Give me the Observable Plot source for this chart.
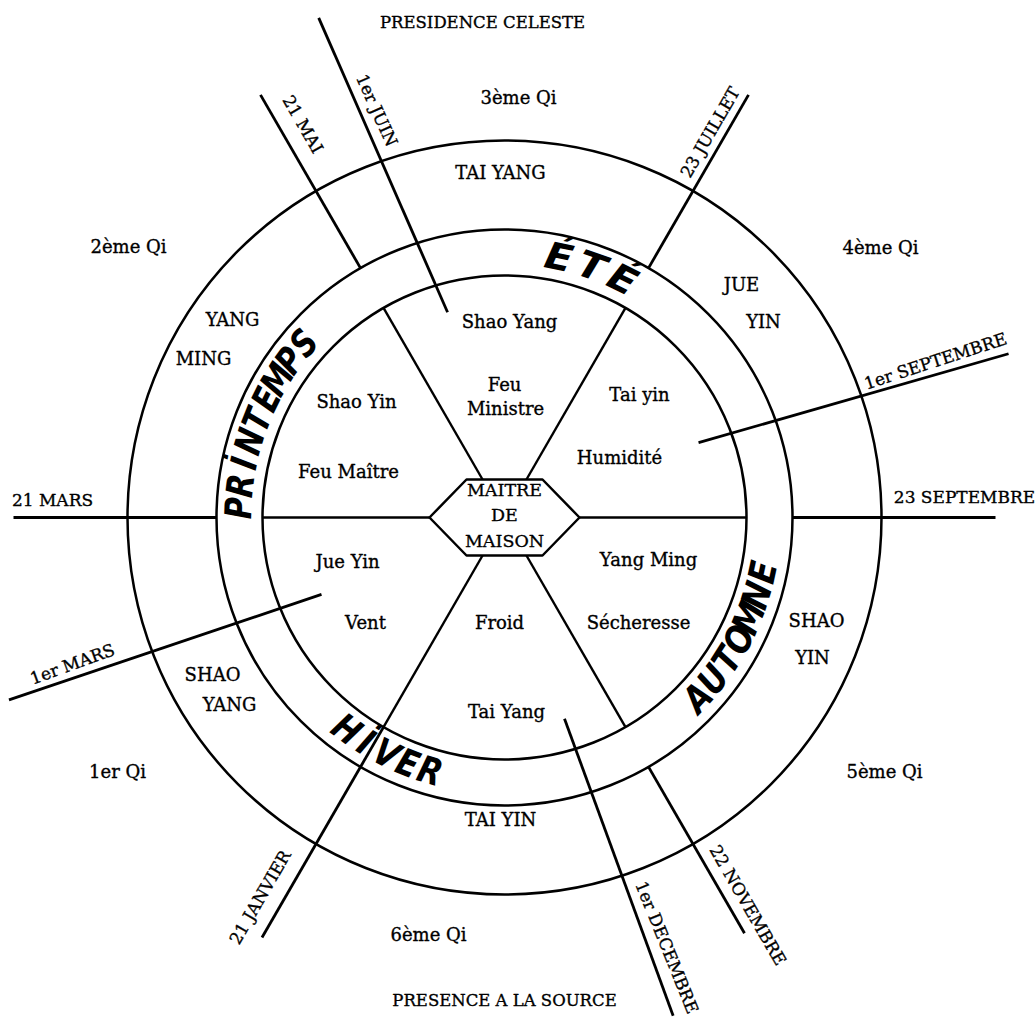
<!DOCTYPE html>
<html>
<head>
<meta charset="utf-8">
<script src="https://cdn.jsdelivr.net/npm/d3@7"></script>
<script src="https://cdn.jsdelivr.net/npm/@observablehq/plot@0.6"></script>
<style>
  html, body { margin: 0; padding: 0; background: #fff; }
</style>
</head>
<body>
<div id="chart"></div>
<script>
// ---- Diagram values (centre of the wheel at 0,0; y pointing up) ----
// ring radii: inner circle, middle circle (season band), outer circle
const ringRadii = [242, 288, 377];
// the six spokes from the central hexagon to the inner circle (degrees)
const spokeAngles = [0, 60, 120, 180, 240, 300];
// central hexagon: half width, half height, half length of top/bottom edges
const hexagonSize = [75, 38, 38];

// date lines: start (angle, radius) and end (angle, radius)
const dateLabels      = ["21 MARS", "21 MAI", "1er JUIN", "23 JUILLET", "1er SEPTEMBRE", "23 SEPTEMBRE", "22 NOVEMBRE", "1er DECEMBRE", "21 JANVIER", "1er MARS"];
const dateAngleStart  = [180, 120, 105.5, 60, 21.1, 0, 300, 286.6, 240, 202.8];
const dateRadiusStart = [288, 288, 213, 288, 208, 288, 288, 210, 242, 198.5];
const dateAngleEnd    = [180, 120, 110.4, 60, 18.0, 0, 300, 288.7, 240, 200.2];
const dateRadiusEnd   = [491, 488, 533, 488, 530, 491, 480, 526, 485, 528];
const dateLabelX      = [-452, -202, -128, 206, 431, 460, 243, 162, -244, -432];
const dateLabelY      = [17, 393, 407, 385, 156, 20, -388, -430, -380, -147];
const dateLabelAngle  = [0, 60, 66, -60, -18, 0, 60, 68, -60, -20];

// the six Qi
const qiNames = ["1er Qi", "2ème Qi", "3ème Qi", "4ème Qi", "5ème Qi", "6ème Qi"];
const qiX     = [-387, -376, 14, 376, 380, -76];
const qiY     = [-255, 270, 419, 269, -255, -418];

// names in the outer ring
const ringNames = ["SHAO", "YANG", "YANG", "MING", "TAI YANG", "JUE", "YIN", "SHAO", "YIN", "TAI YIN"];
const ringX     = [-292, -275, -272, -301, -4, 237, 259, 312, 308, -4];
const ringY     = [-158, -188, 197, 158, 344, 232, 195, -104, -141, -303];

// names inside the inner circle
const innerNames = ["Jue Yin", "Vent", "Shao Yin", "Feu Maître", "Shao Yang", "Feu", "Ministre", "Tai yin", "Humidité", "Yang Ming", "Sécheresse", "Tai Yang", "Froid"];
const innerX     = [-157, -139, -148, -156, 5, 0, 1, 135, 115, 144, 134, 2, -5];
const innerY     = [-45, -106, 115, 45, 195, 132, 108, 122, 59, -43, -106, -195, -106];

// centre
const centreNames = ["MAITRE", "DE", "MAISON"];
const centreY     = [27, 2, -24];

// top and bottom
const poleNames = ["PRESIDENCE CELESTE", "PRESENCE A LA SOURCE"];
const poleX     = [-22, 0];
const poleY     = [495, -483];

// seasons written in the band: first and last letter angle (degrees)
const seasonNames = ["PRİNTEMPS", "ÉTÉ", "AUTOMNE", "HİVER"];
const seasonFrom  = [178, 78.2, 317, 233.3];
const seasonTo    = [139, 63.6, 348, 253.6];

// ---- derived tables ----
const rad = (a) => a * Math.PI / 180;
const px = (a, r) => r * Math.cos(rad(a));
const py = (a, r) => r * Math.sin(rad(a));

const [hexW, hexH, hexE] = hexagonSize;
const hexagon = [[-hexW, 0], [-hexE, hexH], [hexE, hexH], [hexW, 0], [hexE, -hexH], [-hexE, -hexH], [-hexW, 0]]
  .map(([x, y]) => ({x, y}));
const hexRadius = (a) => Math.abs(Math.sin(rad(a))) < 1e-6 ? hexW : hexH / Math.abs(Math.sin(rad(a)));

const spokes = spokeAngles.map(a => ({a, r0: hexRadius(a), r1: ringRadii[0]}));

const dates = dateLabels.map((label, i) => ({
  label,
  a0: dateAngleStart[i], r0: dateRadiusStart[i],
  a1: dateAngleEnd[i], r1: dateRadiusEnd[i],
  lx: dateLabelX[i], ly: dateLabelY[i], rot: dateLabelAngle[i]
}));

const labels = [
  ...qiNames.map((t, i) => ({t, x: qiX[i], y: qiY[i]})),
  ...ringNames.map((t, i) => ({t, x: ringX[i], y: ringY[i]})),
  ...innerNames.map((t, i) => ({t, x: innerX[i], y: innerY[i]}))
];
const centre = centreNames.map((t, i) => ({t, x: 0, y: centreY[i]}));
const poles = poleNames.map((t, i) => ({t, x: poleX[i], y: poleY[i]}));

const bandRadius = (ringRadii[0] + ringRadii[1]) / 2;
const seasonLetters = [];
seasonNames.forEach((name, k) => {
  const chars = Array.from(name);
  const n = chars.length;
  const clockwise = seasonFrom[k] > seasonTo[k];
  const step = Math.abs(seasonTo[k] - seasonFrom[k]) / (n - 1);
  const spacing = rad(step) * bandRadius;           // px between letters
  const squeeze = Math.min(1.1, spacing / 28);        // hand lettering is narrow
  chars.forEach((c, i) => {
    const a = seasonFrom[k] + (seasonTo[k] - seasonFrom[k]) * (i / (n - 1));
    seasonLetters.push({
      c,
      x: px(a, bandRadius),
      y: py(a, bandRadius),
      rot: clockwise ? 90 - a : -(a + 90),
      squeeze
    });
  });
});

// ---- chart ----
const chart = Plot.plot({
  width: 1036,
  height: 1017,
  margin: 0,
  x: {domain: [-504, 532], axis: null},
  y: {domain: [-500, 517], axis: null},
  r: {type: "identity"},
  style: {background: "white", fontFamily: "DejaVu Serif", color: "black"},
  marks: [
    Plot.dot(ringRadii, {x: () => 0, y: () => 0, r: d => d, fill: "none", stroke: "black", strokeWidth: 2.5}),
    Plot.line(hexagon, {x: "x", y: "y", stroke: "black", strokeWidth: 2.5}),
    Plot.link(spokes, {
      x1: d => px(d.a, d.r0), y1: d => py(d.a, d.r0),
      x2: d => px(d.a, d.r1), y2: d => py(d.a, d.r1),
      stroke: "black", strokeWidth: 2.4
    }),
    Plot.link(dates, {
      x1: d => px(d.a0, d.r0), y1: d => py(d.a0, d.r0),
      x2: d => px(d.a1, d.r1), y2: d => py(d.a1, d.r1),
      stroke: "black", strokeWidth: 2.8
    }),
    Plot.text(dates, {x: "lx", y: "ly", text: "label", rotate: "rot", fontSize: 17, fill: "black", stroke: "black", strokeWidth: 0.35}),
    Plot.text(labels, {x: "x", y: "y", text: "t", fontSize: 18, fill: "black", stroke: "black", strokeWidth: 0.35}),
    Plot.text(centre, {x: "x", y: "y", text: "t", fontSize: 17.5, fill: "black", stroke: "black", strokeWidth: 0.35}),
    Plot.text(poles, {x: "x", y: "y", text: "t", fontSize: 16.5, fill: "black", stroke: "black", strokeWidth: 0.35}),
    Plot.text(seasonLetters, {
      x: "x", y: "y", text: "c", rotate: "rot",
      fontSize: 37, fontFamily: "DejaVu Sans", fontStyle: "italic", fontWeight: "bold",
      fill: "black",
      className: "season"
    })
  ]
});

// narrow the hand-lettered season letters
const squeezes = seasonLetters.map(d => d.squeeze);
chart.querySelectorAll(".season text").forEach((t, i) => {
  const tr = t.getAttribute("transform") || "";
  t.setAttribute("transform", tr + ` scale(${squeezes[i]},1)`);
});

document.getElementById("chart").appendChild(chart);
</script>
</body>
</html>
